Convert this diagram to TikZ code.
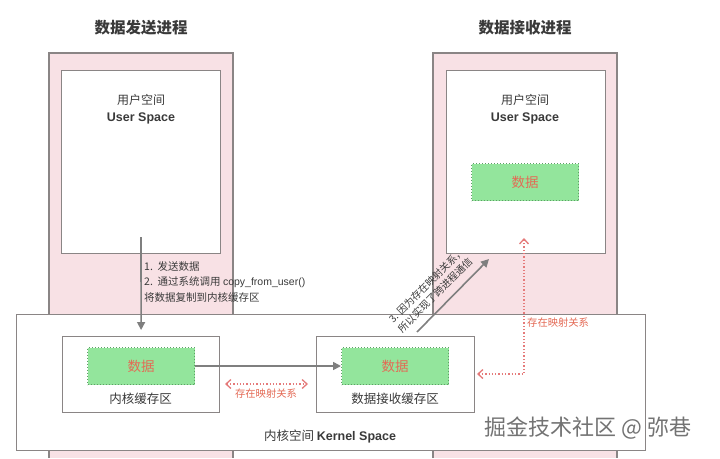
\documentclass[tikz,border=0pt]{standalone}
\usepackage{fontspec}
\setmainfont{Noto Sans CJK SC}
\newfontfamily\lat{Liberation Sans}
\usetikzlibrary{arrows.meta}
\definecolor{pinkc}{HTML}{F8E1E5}
\definecolor{edgec}{HTML}{8A8585}
\definecolor{greenc}{HTML}{93E59C}
\definecolor{greenedge}{HTML}{5E9E66}
\definecolor{txtc}{HTML}{3A3A3A}
\definecolor{redc}{HTML}{E46A55}
\definecolor{redl}{HTML}{E57A7A}
\definecolor{arrc}{HTML}{7F7F7F}
\tikzset{
  box/.style={draw=edgec, line width=1.2pt, fill=white, anchor=north west, inner sep=0pt},
  databox/.style={draw=greenedge, dotted, line width=1pt, fill=greenc, anchor=north west, inner sep=0pt, text=redc, font=\fontsize{13.5}{14}\selectfont},
  lbl/.style={text=txtc, inner sep=0pt, align=center},
  grayarrow/.style={draw=arrc, line width=1.6pt, -{Triangle[length=8pt,width=8pt]}},
  redarrow/.style={draw=redl, dotted, line width=1.3pt, {Straight Barb[length=5pt,width=9pt]}-{Straight Barb[length=5pt,width=9pt]}},
  redlbl/.style={text=redc, inner sep=0pt, font=\fontsize{10.3}{12}\selectfont},
}
\begin{document}
\begin{tikzpicture}[x=1pt,y=-1pt]
\useasboundingbox (0,0) rectangle (720,458);
% process columns
\fill[pinkc] (49,53) rectangle (233,458);
\draw[edgec, line width=1.2pt] (49,458) -- (49,53) -- (233,53) -- (233,458);
\fill[pinkc] (433,53) rectangle (617,458);
\draw[edgec, line width=1.2pt] (433,458) -- (433,53) -- (617,53) -- (617,458);
% titles
\node[lbl, font=\fontsize{15.5}{17}\selectfont\bfseries] (t1) at (141,28) {数据发送进程};
\node[lbl, font=\fontsize{15.5}{17}\selectfont\bfseries] (t2) at (525,28) {数据接收进程};
% user spaces
\node[box, minimum width=159pt, minimum height=183pt] (lu) at (61,70) {};
\node[box, minimum width=159pt, minimum height=183pt] (ru) at (446,70) {};
\node[lbl, font=\fontsize{12}{13}\selectfont] (lu1) at (141,100) {用户空间};
\node[lbl, font=\fontsize{12.5}{13}\selectfont\lat\bfseries] (lu2) at (141,118) {User Space};
\node[lbl, font=\fontsize{12}{13}\selectfont] (ru1) at (525,100) {用户空间};
\node[lbl, font=\fontsize{12.5}{13}\selectfont\lat\bfseries] (ru2) at (525,118) {User Space};
\node[databox, minimum width=107pt, minimum height=37pt] (rd) at (471,163) {数据};
% kernel
\node[box, minimum width=629pt, minimum height=136pt] (k) at (16,314) {};
\node[lbl, font=\fontsize{12.5}{13}\selectfont] (kl) at (330,437) {内核空间 {\lat\bfseries Kernel Space}};
\node[box, minimum width=157pt, minimum height=76pt] (lb) at (62,336) {};
\node[box, minimum width=158pt, minimum height=76pt] (rb) at (316,336) {};
\node[databox, minimum width=107pt, minimum height=37pt] (lg) at (87,347) {数据};
\node[databox, minimum width=107pt, minimum height=37pt] (rg) at (341,347) {数据};
\node[lbl, font=\fontsize{12.5}{13}\selectfont] (lbt) at (140.5,399) {内核缓存区};
\node[lbl, font=\fontsize{12.5}{13}\selectfont] (rbt) at (395,399) {数据接收缓存区};
% arrow 1
\coordinate (a1) at (141,237);
\draw[grayarrow] (a1) -- ([yshift=6pt]lb.north);
\node[lbl, anchor=north west, align=left, font=\fontsize{10.5}{15.5}\selectfont] (s1) at (144,261)
  {1.\ \ 发送数据\\2.\ \ 通过系统调用 {\lat copy\_from\_user()}\\将数据复制到内核缓存区};
% kernel copy arrow
\draw[grayarrow] (lg.east) -- (rg.west);
% mapping left
\coordinate (m1) at (225,384);
\coordinate (m2) at (308,384);
\draw[redarrow] (m1) -- (m2);
\node[redlbl] (ml) at (266,394) {存在映射关系};
% mapping right
\coordinate (r1) at (477,374);
\coordinate (r2) at (524,374);
\coordinate (r3) at (524,238);
\draw[redarrow] (r1) -- (r2) -- (r3);
\node[redlbl, anchor=west] (rl) at (527,323) {存在映射关系};
% diagonal arrow
\coordinate (d1) at (417,332);
\coordinate (d2) at (489,259);
\draw[grayarrow] (d1) -- (d2);
\node[lbl, rotate=45, font=\fontsize{10}{13}\selectfont, align=left] (dt) at (431,290) {3. 因为存在映射关系，\\所以实现了跨进程通信};
% watermark
\node[lbl, text=black!55, font=\fontsize{22}{24}\selectfont] (wm) at (588,428) {掘金技术社区 @ 弥巷};
\end{tikzpicture}
\end{document}
